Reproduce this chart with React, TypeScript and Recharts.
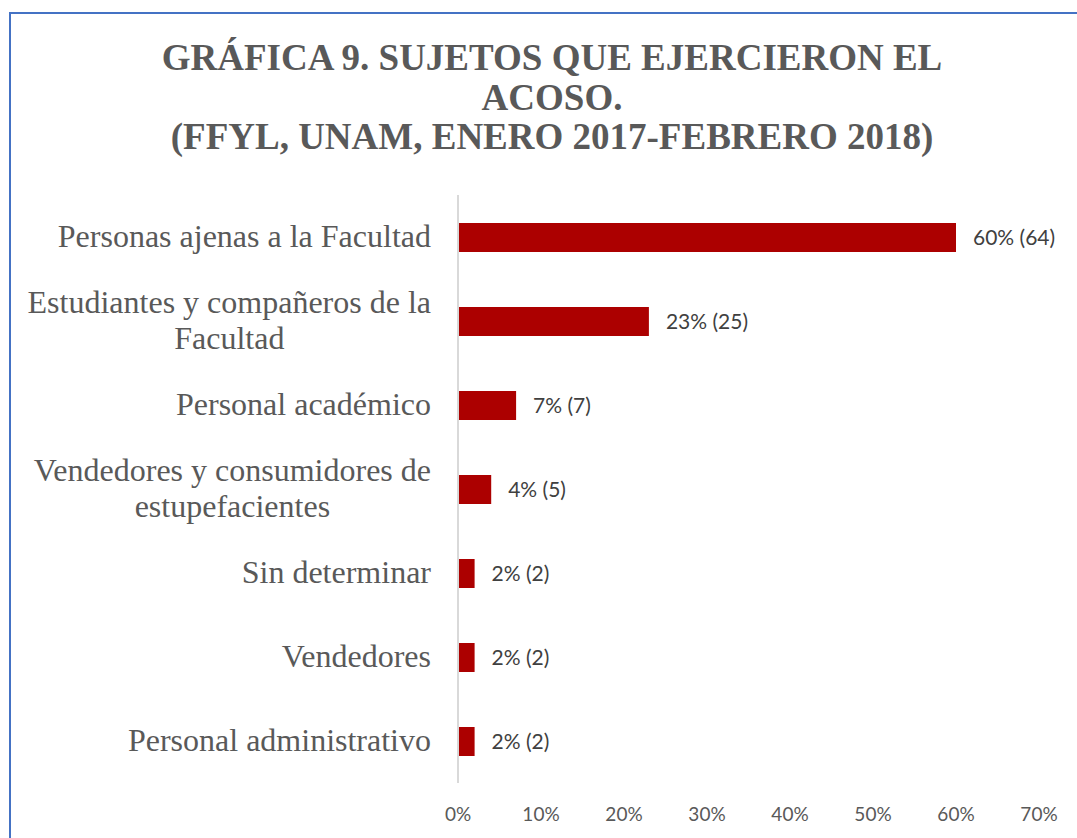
import { BarChart, Bar, XAxis, YAxis, LabelList } from "recharts";

const categories = [
  "Personas ajenas a la Facultad",
  "Estudiantes y compañeros de la Facultad",
  "Personal académico",
  "Vendedores y consumidores de estupefacientes",
  "Sin determinar",
  "Vendedores",
  "Personal administrativo",
];
const percents = [60, 23, 7, 4, 2, 2, 2];
const counts = [64, 25, 7, 5, 2, 2, 2];
const xTicks = [0, 10, 20, 30, 40, 50, 60, 70];

const titleLines = [
  "GRÁFICA 9. SUJETOS QUE EJERCIERON EL",
  "ACOSO.",
  "(FFYL, UNAM, ENERO 2017-FEBRERO 2018)",
];

const data = categories.map((name, i) => ({
  name,
  pct: percents[i],
  count: counts[i],
}));

const SERIF = '"Liberation Serif", "Times New Roman", serif';
const SANS = 'Lato, "Open Sans", sans-serif';
const LABEL_SIZE = 32;

let ctx: CanvasRenderingContext2D | null = null;
function wrap(text: string, maxWidth: number): string[] {
  if (!ctx) ctx = document.createElement("canvas").getContext("2d");
  if (!ctx) return [text];
  ctx.font = `${LABEL_SIZE}px ${SERIF}`;
  const words = text.split(" ");
  const lines: string[] = [];
  let cur = "";
  for (const w of words) {
    const next = cur ? cur + " " + w : w;
    if (cur && ctx.measureText(next).width > maxWidth) {
      lines.push(cur);
      cur = w;
    } else {
      cur = next;
    }
  }
  if (cur) lines.push(cur);
  return lines;
}

function CategoryTick(props: any) {
  const { x, y, payload } = props;
  const lines = wrap(payload.value, 420);
  const lh = 36;
  const right = x - 19;
  if (lines.length === 1) {
    return (
      <text x={right} y={y} dy={10} textAnchor="end" fill="#595959" fontFamily={SERIF} fontSize={LABEL_SIZE}>
        {lines[0]}
      </text>
    );
  }
  // wrapped labels: lines centred on the widest one, which sits flush right
  const c = ctx!;
  const widths = lines.map((l) => c.measureText(l).width);
  const maxW = Math.max(...widths);
  const cx = right - maxW / 2;
  const startY = y - ((lines.length - 1) * lh) / 2;
  return (
    <text textAnchor="middle" fill="#595959" fontFamily={SERIF} fontSize={LABEL_SIZE}>
      {lines.map((l, i) => (
        <tspan key={i} x={cx} y={startY + i * lh} dy={10}>
          {l}
        </tspan>
      ))}
    </text>
  );
}

function ValueLabel(props: any) {
  const { x, y, width, height, index } = props;
  return (
    <text
      x={x + width + 17}
      y={y + height / 2}
      dy={7}
      fill="#404040"
      fontFamily={SANS}
      fontSize={21}
    >
      {`${percents[index]}% (${counts[index]})`}
    </text>
  );
}

export default function App() {
  return (
    <div style={{ position: "absolute", left: 0, top: 0, width: 1077, height: 838, background: "#fff", overflow: "hidden" }}>
      <div
        style={{
          position: "absolute",
          left: 9,
          top: 12,
          width: 1100,
          height: 900,
          borderLeft: "2px solid #4472c4",
          borderTop: "2px solid #4472c4",
        }}
      />
      <div
        style={{
          position: "absolute",
          left: 9,
          width: 1086,
          top: 38,
          textAlign: "center",
          fontFamily: SERIF,
          fontWeight: "bold",
          fontSize: 37,
          lineHeight: "39.5px",
          color: "#595959",
        }}
      >
        {titleLines.map((l, i) => (
          <div key={i}>{l}</div>
        ))}
      </div>
      <div style={{ position: "absolute", left: 0, top: 0 }}>
        <BarChart
          width={1077}
          height={838}
          data={data}
          layout="vertical"
          margin={{ top: 195, right: 38, bottom: 10, left: 0 }}
          barSize={29}
        >
          <XAxis
            type="number"
            domain={[0, 70]}
            ticks={xTicks}
            tickFormatter={(v) => `${v}%`}
            axisLine={false}
            tickLine={false}
            tickMargin={19}
            height={45}
            tick={{ fill: "#595959", fontFamily: SANS, fontSize: 19 }}
          />
          <YAxis
            type="category"
            dataKey="name"
            width={458}
            axisLine={{ stroke: "#d9d9d9", strokeWidth: 2 }}
            tickLine={false}
            tick={<CategoryTick />}
            interval={0}
          />
          <Bar dataKey="pct" fill="#ac0000" isAnimationActive={false}>
            <LabelList dataKey="pct" content={<ValueLabel />} />
          </Bar>
        </BarChart>
      </div>
    </div>
  );
}
